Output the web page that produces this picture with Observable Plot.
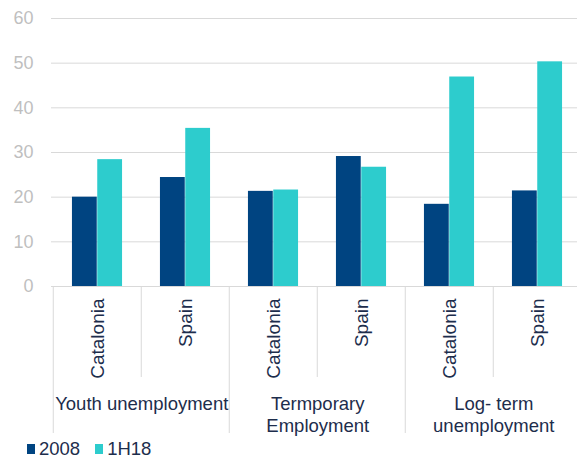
<!DOCTYPE html>
<html><head><meta charset="utf-8">
<script src="https://cdn.jsdelivr.net/npm/d3@7"></script>
<script src="https://cdn.jsdelivr.net/npm/@observablehq/plot@0.6"></script>
<style>
body{margin:0;background:#fff;font-family:"Liberation Sans",Arial,sans-serif;}
#chart svg{display:block;}
#legend{display:flex;align-items:center;height:21px;padding-left:27px;font-size:18.5px;color:#1d2d4c;line-height:21px;}
.item{display:flex;align-items:center;margin-right:15px;}
.sw{width:8px;height:10px;margin-right:4px;}
</style></head><body><div id="chart"></div><div id="legend"></div>
<script>
const groups = ["Youth unemployment", "Termporary\nEmployment", "Log- term\nunemployment"];
const regions = ["Catalonia", "Spain"];
const series = ["2008", "1H18"];
const values2008 = [20.0, 24.4, 21.3, 29.1, 18.4, 21.4];
const values1H18 = [28.4, 35.4, 21.6, 26.7, 46.9, 50.3];
const colors = ["#004481", "#2dcccd"];
const yTicks = [0, 10, 20, 30, 40, 50, 60];

const rows = [];
groups.forEach((g, gi) => regions.forEach((r, ri) => {
  const i = gi * regions.length + ri;
  rows.push({key: g + "|" + r, group: g, region: r, v2008: values2008[i], v1H18: values1H18[i]});
}));
const keys = rows.map(d => d.key);

const W = 577, H = 438, ML = 51, MR = -5, MT = 18, MB = 152;
const bw = (W - ML - MR) / keys.length;
const barW = 25.3;
const textColor = "#1d2d4c";
const gridColor = "#d9d9d9";

const chart = Plot.plot({
  width: W, height: H,
  marginLeft: ML, marginRight: MR, marginTop: MT, marginBottom: MB,
  x: {type: "band", domain: keys, padding: 0, axis: null},
  y: {domain: [0, 60], axis: null},
  style: {fontFamily: "'Liberation Sans', Arial, sans-serif", background: "white"},
  marks: [
    Plot.ruleY(yTicks, {stroke: gridColor, strokeWidth: 1}),
    Plot.text(yTicks, {y: d => d, text: d => String(d), frameAnchor: "left", textAnchor: "end", dx: -18, fill: "#bfbfbf", fontSize: 18}),
    Plot.barY(rows, {x: "key", y: "v2008", fill: colors[0], insetLeft: bw / 2 - barW, insetRight: bw / 2}),
    Plot.barY(rows, {x: "key", y: "v1H18", fill: colors[1], insetLeft: bw / 2, insetRight: bw / 2 - barW}),
    Plot.ruleX(rows.filter(d => d.region === "Spain"), {x: "key", y1: 0, y2: 0, insetBottom: -91, dx: -bw / 2, stroke: gridColor}),
    Plot.ruleX(rows.filter(d => d.region === "Catalonia"), {x: "key", y1: 0, y2: 0, insetBottom: -147, dx: -bw / 2, stroke: gridColor}),
    Plot.text(rows, {x: "key", text: "region", frameAnchor: "bottom", rotate: -90, textAnchor: "end", lineAnchor: "middle", dy: 12, fontSize: 19, fill: textColor}),
    Plot.text(rows.filter(d => d.region === "Catalonia"), {x: "key", text: "group", frameAnchor: "bottom", lineAnchor: "top", dx: bw / 2, dy: 108, lineHeight: 1.19, fontSize: 18.5, fill: textColor})
  ]
});
document.getElementById("chart").appendChild(chart);

const legend = document.getElementById("legend");
series.forEach((s, i) => {
  const it = document.createElement("div");
  it.className = "item";
  const sw = document.createElement("span");
  sw.className = "sw";
  sw.style.background = colors[i];
  const t = document.createElement("span");
  t.textContent = s;
  it.appendChild(sw); it.appendChild(t);
  legend.appendChild(it);
});
</script></body></html>
